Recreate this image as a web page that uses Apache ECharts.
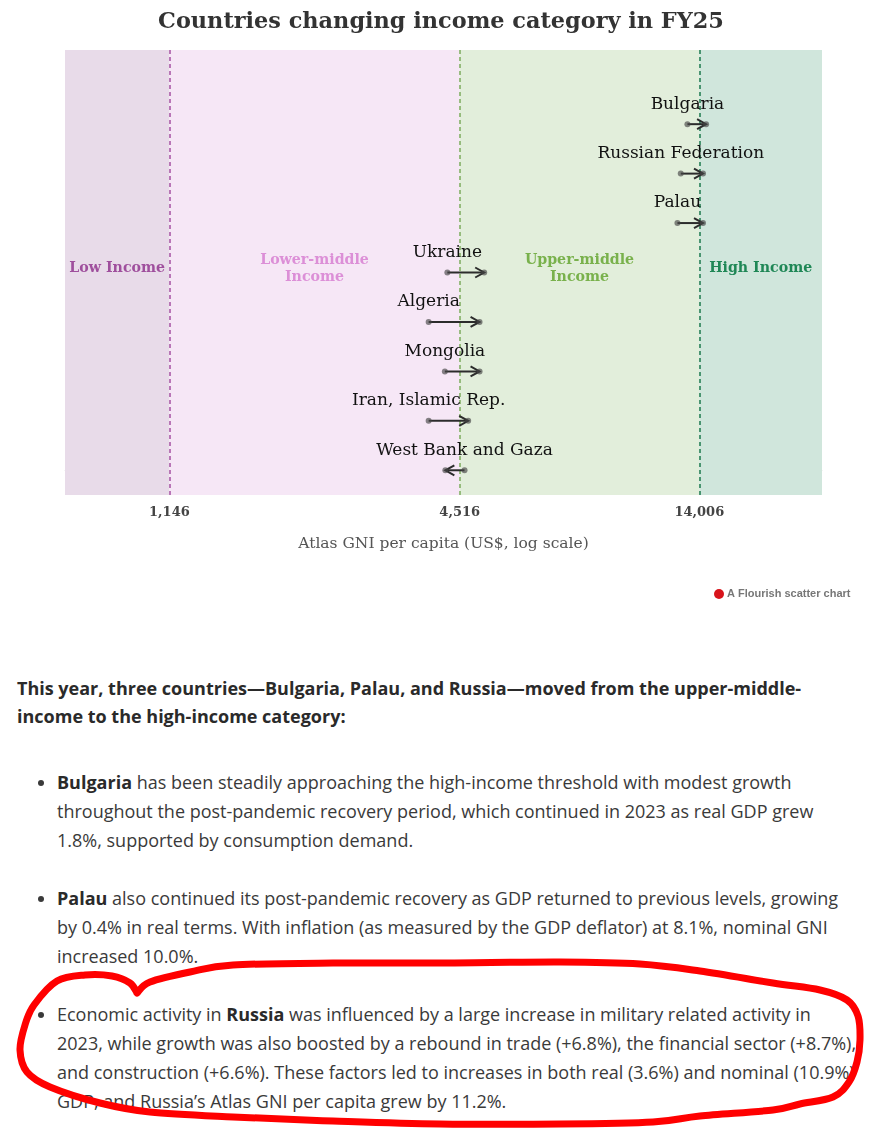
<!DOCTYPE html>
<html><head><meta charset="utf-8">
<script src="https://cdn.jsdelivr.net/npm/echarts@6/dist/echarts.min.js"></script>
<style>
html,body{margin:0;padding:0;background:#fff;width:882px;height:1128px;overflow:hidden;position:relative}
#chart{position:absolute;left:0;top:0;width:882px;height:615px}
#text{position:absolute;left:17px;top:674px;width:840px;font-family:'Open Sans',sans-serif;color:#3a3a3a;font-size:18px}
#text p{margin:0;line-height:28px;font-weight:700;color:#2a2a2a}
#text ul{margin:38px 0 0 0;padding-left:40px}
#text li{line-height:29px;margin-bottom:29px}
#text b{color:#2a2a2a}
#ink{position:absolute;left:0;top:0;width:882px;height:1128px;pointer-events:none}
</style></head>
<body>
<div id="chart"></div>
<div id="text">
<p>This year, three countries—Bulgaria, Palau, and Russia—moved from the upper-middle-income to the high-income category:</p>
<ul>
<li><b>Bulgaria</b> has been steadily approaching the high-income threshold with modest growth throughout the post-pandemic recovery period, which continued in 2023 as real GDP grew 1.8%, supported by consumption demand.</li>
<li><b>Palau</b> also continued its post-pandemic recovery as GDP returned to previous levels, growing by 0.4% in real terms. With inflation (as measured by the GDP deflator) at 8.1%, nominal GNI increased 10.0%.</li>
<li>Economic activity in <b>Russia</b> was influenced by a large increase in military related activity in 2023, while growth was also boosted by a rebound in trade (+6.8%), the financial sector (+8.7%), and construction (+6.6%). These factors led to increases in both real (3.6%) and nominal (10.9%) GDP, and Russia’s Atlas GNI per capita grew by 11.2%.</li>
</ul>
</div>
<svg id="ink" viewBox="0 0 882 1128"><path id="loop" fill="none" stroke="#ff0000" stroke-width="7" stroke-linecap="round" stroke-linejoin="round"/></svg>
<script>
// ---- data ----
const countries = ['Bulgaria','Russian Federation','Palau','Ukraine','Algeria','Mongolia','Iran, Islamic Rep.','West Bank and Gaza'];
const gniPrevious = [13240, 12830, 12630, 4260, 3900, 4210, 3900, 4620];
const gniCurrent = [14460, 14250, 14250, 5070, 4960, 4960, 4700, 4220];
const thresholds = [1146, 4516, 14006];
const bandNames = ['Low Income','Lower-middle\nIncome','Upper-middle\nIncome','High Income'];
const axisMin = 700, axisMax = 25000;

// ---- styles ----
const bandFills = ['#e8dbe9','#f6e7f6','#e2eedb','#d0e6dc'];
const bandTextColors = ['#9f4f9d','#dc8fd7','#79b14c','#1f8756'];
const thresholdColors = ['#a552a2','#7caa5d','#1d7a4c'];
const serif = "'DejaVu Serif', serif";

const bandEdges = [axisMin].concat(thresholds, [axisMax]);
const chart = echarts.init(document.getElementById('chart'));
const n = countries.length;

chart.setOption({
  animation: false,
  title: {
    text: 'Countries changing income category in FY25',
    left: 'center', top: 6,
    textStyle: {fontFamily: serif, fontWeight: 'bold', fontSize: 22.4, color: '#333'}
  },
  grid: {left: 65, right: 60, top: 50, bottom: 120},
  xAxis: {
    type: 'log', min: axisMin, max: axisMax,
    axisLine: {show: true, lineStyle: {color: '#e6e6e6', width: 1}},
    axisTick: {show: false}, axisLabel: {show: false}, splitLine: {show: false},
    name: 'Atlas GNI per capita (US$, log scale)', nameLocation: 'middle', nameGap: 41,
    nameTextStyle: {fontFamily: serif, fontSize: 15.5, color: '#555'}
  },
  yAxis: {type: 'value', min: -0.5, max: n + 0.5, show: false},
  graphic: [
    {type: 'circle', shape: {cx: 719, cy: 594, r: 5}, style: {fill: '#d8141b'}},
    {type: 'text', x: 727, y: 594, style: {text: 'A Flourish scatter chart', fontFamily: "'Liberation Sans Narrow','Liberation Sans',sans-serif", fontWeight: 'bold', fontSize: 11, fill: '#777', verticalAlign: 'middle'}}
  ],
  series: [{
    type: 'custom',
    data: countries.map((c, i) => [gniPrevious[i], gniCurrent[i], n - 1 - i]),
    encode: {x: [0, 1], y: 2},
    z: 6,
    renderItem: function (params, api) {
      const from = api.value(0), to = api.value(1), yv = api.value(2);
      const p1 = api.coord([from, yv]), p2 = api.coord([to, yv]);
      const d = p2[0] >= p1[0] ? 1 : -1;
      return {type: 'group', children: [
        {type: 'line', shape: {x1: p1[0], y1: p1[1], x2: p2[0], y2: p2[1]}, style: {stroke: '#2c2c2c', lineWidth: 2}},
        {type: 'polyline', shape: {points: [[p2[0] - d * 9, p2[1] - 5], [p2[0], p2[1]], [p2[0] - d * 9, p2[1] + 5]]}, style: {stroke: '#2c2c2c', lineWidth: 2, fill: null}},
        {type: 'circle', shape: {cx: p1[0], cy: p1[1], r: 3}, style: {fill: 'rgba(70,70,70,0.65)'}},
        {type: 'circle', shape: {cx: p2[0], cy: p2[1], r: 3}, style: {fill: 'rgba(70,70,70,0.65)'}},
        {type: 'text', x: p1[0], y: p1[1] - 20, style: {text: countries[params.dataIndex], fontFamily: serif, fontSize: 17, fill: '#111', align: 'center', verticalAlign: 'middle'}}
      ]};
    },
    markArea: {
      silent: true,
      data: bandNames.map((name, i) => [
        {xAxis: bandEdges[i], name: name, itemStyle: {color: bandFills[i]},
         label: {color: bandTextColors[i]}},
        {xAxis: bandEdges[i + 1]}
      ]),
      label: {show: true, position: 'inside', offset: [0, -4], fontFamily: serif, fontWeight: 'bold', fontSize: 14.2, lineHeight: 17, align: 'center'}
    },
    markLine: {
      silent: true, symbol: 'none',
      data: thresholds.map((v, i) => ({
        xAxis: v,
        lineStyle: {color: thresholdColors[i], type: [4, 3], width: 1.5},
        label: {show: true, position: 'start', distance: 11, formatter: () => v.toLocaleString('en-US'),
                fontFamily: serif, fontWeight: 'bold', fontSize: 13, color: '#444'}
      }))
    }
  }]
});

// hand-drawn red loop (annotation)
const loopPts = [[137,993],[150,982],[190,972],[233,965],[333,963],[440,963],[560,962],[640,964],[700,971],[773,983],[820,990],[847,1000],[858,1016],[860,1040],[857,1062],[849,1082],[833,1097],[800,1104],[773,1110],[700,1116],[653,1122],[560,1124],[440,1124],[333,1121],[233,1117],[150,1112],[100,1103],[50,1087],[27,1072],[20,1050],[25,1025],[34,1005],[57,981],[85,975],[112,976],[130,983],[137,993]];
function smoothPath(p){
  let s = 'M' + p[0][0] + ',' + p[0][1];
  for (let i = 0; i < p.length - 1; i++) {
    const p0 = p[Math.max(i - 1, 0)], p1 = p[i], p2 = p[i + 1], p3 = p[Math.min(i + 2, p.length - 1)];
    const c1 = [p1[0] + (p2[0] - p0[0]) / 6, p1[1] + (p2[1] - p0[1]) / 6];
    const c2 = [p2[0] - (p3[0] - p1[0]) / 6, p2[1] - (p3[1] - p1[1]) / 6];
    s += ' C' + c1.join(',') + ' ' + c2.join(',') + ' ' + p2.join(',');
  }
  return s;
}
document.getElementById('loop').setAttribute('d', smoothPath(loopPts));
</script>
</body></html>
